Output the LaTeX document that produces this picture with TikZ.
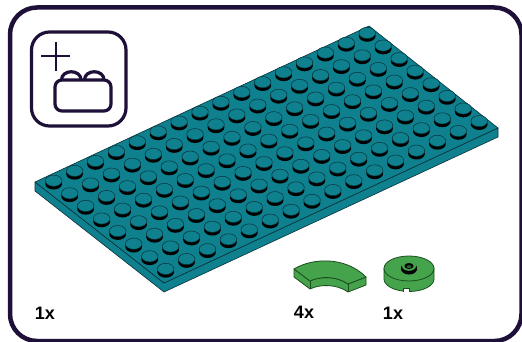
\documentclass[tikz,border=0pt]{standalone}
\usepackage{fontspec}
\setmainfont{Liberation Sans}
\definecolor{frameink}{HTML}{1E1038}
\definecolor{plateteal}{HTML}{0E808E}
\definecolor{plateedge}{HTML}{06333A}
\definecolor{tilegreen}{HTML}{45A34B}
\definecolor{tileedge}{HTML}{1B4F20}
\tikzset{
  frameline/.style={draw=frameink,line width=4.5pt},
  iconline/.style={draw=frameink,line width=3.2pt,line join=round,line cap=round},
  plusline/.style={draw=frameink,line width=2.6pt},
  platefill/.style={fill=plateteal,draw=plateedge,line width=.6pt,line join=round},
  studtop/.style={fill=plateteal,draw=plateedge,line width=.5pt},
  studshadow/.style={fill=black,draw=none},
  tilefill/.style={fill=tilegreen,draw=tileedge,line width=.8pt,line join=round},
  count/.style={font=\bfseries\fontsize{18}{20}\selectfont,text=black,inner sep=0pt,anchor=center},
}
\begin{document}
\begin{tikzpicture}[x=1pt,y=-1pt]
\useasboundingbox (0,0) rectangle (522,342);
\clip (0,0) rectangle (522,342);
\fill[white] (0,0) rectangle (522,342);
% outer frame
\draw[frameline,rounded corners=27pt] (10,7.5) rectangle (521.5,341);
% icon
\draw[iconline,rounded corners=18pt] (31.5,32) rectangle (126,126);
\draw[plusline] (41,56) -- (70,56);
\draw[plusline] (56,42) -- (56,71);
\draw[iconline] (61.5,80) .. controls (61.5,69) and (81,69) .. (81,80);
\draw[iconline] (84.5,80) .. controls (84.5,69) and (104,69) .. (104,80);
\draw[iconline,fill=white,rounded corners=7pt] (55,80) rectangle (111,111);
% plate
\draw[platefill] (35,182) -- (35,191) -- (164,292) -- (498,137) -- (498,128) -- (164,283) -- cycle;
\draw[platefill] (35,182) -- (369,26) -- (498,128) -- (164,283) -- cycle;
\foreach \i in {15,14,...,0}{
  \foreach \j in {0,...,7}{
    \pgfmathsetmacro{\sx}{53.7+20.9*\i+16*\j}
    \pgfmathsetmacro{\sy}{180.7-9.85*\i+12.6*\j}
    \fill[studshadow] (\sx,\sy+3) ellipse [x radius=8.4pt,y radius=5.8pt];
    \draw[studtop] (\sx,\sy) ellipse [x radius=8.3pt,y radius=5.6pt];
  }
}
% curved tile
\draw[tilefill] (294,269) -- (294,277) -- (310,289) .. controls (320,284) and (337,284) .. (348,292) -- (366,285) -- (366,277) -- (348,284) .. controls (337,276) and (320,276) .. (310,281) -- cycle;
\draw[tilefill] (294,269) .. controls (312,258) and (345,256) .. (366,277) -- (348,284) .. controls (337,276) and (320,276) .. (310,281) -- cycle;
\draw[tileedge,line width=.8pt] (310,281) -- (310,289) (348,284) -- (348,292);
% round tile
\draw[tilefill] (384,268.5) -- (384,279) arc [start angle=180,end angle=360,x radius=25pt,y radius=12.5pt] -- (434,268.5) -- cycle;
\draw[tilefill] (409,268.5) ellipse [x radius=25pt,y radius=12.5pt];
\fill[white] (403,292) -- (403,288.5) -- (409.5,288.5) -- (409.5,292) -- cycle;
\draw[tileedge,line width=.7pt] (403,291.5) -- (403,288.5) -- (409.5,288.5) -- (409.5,291.5);
\fill[black] (409,268.5) ellipse [x radius=8.2pt,y radius=6pt];
\fill[tilegreen] (409,266) ellipse [x radius=7pt,y radius=4.8pt];
\fill[black] (409,266) ellipse [x radius=4.6pt,y radius=3pt];
\fill[tilegreen!60!black] (409,266.6) ellipse [x radius=2.4pt,y radius=1.4pt];
% counts
\node[count] (cnta) at (45,313.5) {1x};
\node[count] (cntb) at (304,312.5) {4x};
\node[count] (cntc) at (393,313) {1x};
\end{tikzpicture}
\end{document}
